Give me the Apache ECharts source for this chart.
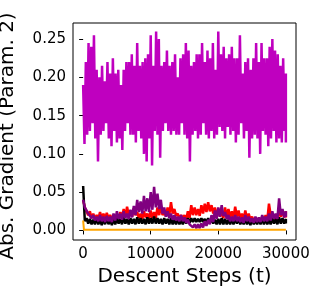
<!DOCTYPE html>
<html><head><meta charset="utf-8">
<script src="https://cdn.jsdelivr.net/npm/echarts@6/dist/echarts.min.js"></script>
<style>html,body{margin:0;padding:0;background:#fff}#c{width:318px;height:292px}</style>
</head><body><div id="c"></div>
<script>
// Magenta series: upper / lower envelope, sampled every 400 steps
const magStep = 400;
const magTop = [0.19,0.22,0.245,0.24,0.255,0.21,0.20,0.215,0.195,0.22,0.205,0.225,0.205,0.21,0.19,0.21,0.22,0.22,0.23,0.215,
0.245,0.215,0.22,0.225,0.23,0.255,0.215,0.26,0.25,0.215,0.22,0.235,0.215,0.22,0.23,0.20,0.225,0.23,0.245,0.235,
0.215,0.22,0.23,0.23,0.245,0.22,0.235,0.225,0.245,0.21,0.26,0.23,0.24,0.225,0.23,0.24,0.225,0.225,0.255,0.205,
0.22,0.225,0.21,0.225,0.245,0.22,0.245,0.225,0.225,0.24,0.25,0.235,0.23,0.215,0.225,0.205];
const magBot = [0.113,0.125,0.13,0.14,0.12,0.09,0.125,0.13,0.14,0.12,0.11,0.13,0.115,0.12,0.105,0.13,0.14,0.125,0.125,0.115,
0.13,0.12,0.10,0.09,0.12,0.085,0.13,0.125,0.095,0.13,0.14,0.13,0.125,0.13,0.125,0.125,0.14,0.125,0.12,0.09,
0.125,0.13,0.12,0.125,0.14,0.125,0.12,0.13,0.12,0.125,0.135,0.13,0.12,0.135,0.125,0.13,0.115,0.125,0.14,0.12,
0.13,0.095,0.12,0.125,0.12,0.10,0.13,0.125,0.11,0.12,0.13,0.115,0.12,0.115,0.13,0.115];

// Lower series: upper / lower envelopes, sampled every 500 steps
const lowStep = 500;
const redTop = [0.04,0.03,0.025,0.022,0.02,0.024,0.022,0.023,0.02,0.019,0.02,0.024,0.028,0.031,0.026,0.029,0.024,0.022,0.025,0.022,
0.026,0.024,0.03,0.032,0.025,0.03,0.037,0.028,0.022,0.02,0.02,0.025,0.033,0.03,0.028,0.033,0.035,0.037,0.033,0.03,
0.028,0.025,0.03,0.028,0.025,0.031,0.026,0.022,0.026,0.022,0.018,0.017,0.016,0.018,0.02,0.035,0.022,0.02,0.03,0.026,0.025];
const redBot = [0.03,0.02,0.016,0.015,0.015,0.016,0.015,0.016,0.015,0.014,0.015,0.016,0.018,0.02,0.018,0.02,0.016,0.015,0.017,0.015,
0.016,0.016,0.02,0.02,0.018,0.02,0.022,0.019,0.016,0.015,0.014,0.016,0.02,0.02,0.019,0.022,0.024,0.025,0.022,0.02,
0.018,0.016,0.018,0.017,0.016,0.018,0.016,0.014,0.015,0.014,0.012,0.012,0.011,0.012,0.013,0.02,0.014,0.014,0.018,0.017,0.017];
const purTop = [0.04,0.03,0.024,0.02,0.018,0.02,0.018,0.019,0.018,0.022,0.025,0.022,0.025,0.022,0.027,0.032,0.04,0.038,0.045,0.042,
0.05,0.057,0.048,0.04,0.03,0.025,0.022,0.02,0.018,0.02,0.017,0.014,0.01,0.008,0.008,0.009,0.012,0.014,0.02,0.026,
0.03,0.033,0.024,0.02,0.018,0.02,0.018,0.017,0.02,0.018,0.016,0.018,0.017,0.02,0.018,0.022,0.025,0.022,0.042,0.028,0.025];
const purBot = [0.03,0.022,0.016,0.013,0.012,0.012,0.011,0.012,0.011,0.013,0.015,0.014,0.016,0.015,0.017,0.02,0.024,0.022,0.025,0.024,
0.027,0.03,0.028,0.022,0.018,0.016,0.014,0.013,0.012,0.012,0.01,0.008,0.004,0.003,0.003,0.004,0.006,0.008,0.011,0.015,
0.018,0.019,0.015,0.012,0.012,0.012,0.011,0.01,0.012,0.011,0.01,0.011,0.011,0.012,0.012,0.013,0.015,0.015,0.02,0.017,0.018];
const blkTop = [0.058,0.016,0.015,0.014,0.016,0.014,0.015,0.017,0.014,0.015,0.016,0.015,0.017,0.015,0.016,0.015,0.017,0.016,0.015,0.017,
0.016,0.018,0.016,0.015,0.016,0.015,0.016,0.014,0.015,0.014,0.015,0.016,0.016,0.016,0.015,0.016,0.015,0.016,0.015,0.014,
0.015,0.016,0.015,0.014,0.015,0.016,0.015,0.014,0.015,0.014,0.015,0.014,0.015,0.016,0.015,0.014,0.016,0.015,0.017,0.016,0.015];
const blkBot = [0.012,0.009,0.008,0.008,0.008,0.007,0.008,0.008,0.007,0.008,0.009,0.008,0.009,0.008,0.009,0.008,0.009,0.009,0.008,0.009,
0.009,0.009,0.009,0.008,0.009,0.008,0.008,0.008,0.008,0.008,0.009,0.01,0.011,0.011,0.011,0.011,0.01,0.01,0.009,0.008,
0.008,0.008,0.008,0.008,0.008,0.009,0.008,0.008,0.008,0.007,0.008,0.008,0.008,0.008,0.008,0.008,0.009,0.008,0.009,0.009,0.009];
const orangeT = [0, 120, 30000];
const orangeV = [0.013, 0.001, 0.001];

const xTicks = [0, 10000, 20000, 30000];
const yTicks = [0, 0.05, 0.10, 0.15, 0.20, 0.25];

function zig(top, bot, step) {
  const out = [];
  for (let i = 0; i < top.length; i++) {
    out.push([i * step, top[i]]);
    out.push([Math.min(i * step + step / 2, 30000), bot[i]]);
  }
  return out;
}

const font = 'DejaVu Sans';
const line = (data, color, z, w) => ({
  type: 'line', data, showSymbol: false, symbol: 'none', z,
  lineStyle: { color, width: w, join: 'bevel' }, animation: false
});

const chart = echarts.init(document.getElementById('c'), null, { renderer: 'canvas' });
chart.setOption({
  animation: false,
  grid: { left: 73, right: 22, top: 23, bottom: 52, outerBoundsMode: 'none', containLabel: false,
          show: true, borderColor: '#000', borderWidth: 1, backgroundColor: 'transparent' },
  xAxis: {
    type: 'value', min: -1500, max: 31500,
    name: 'Descent Steps (t)', nameLocation: 'middle', nameGap: 27,
    nameTextStyle: { fontFamily: font, fontSize: 20, color: '#000' },
    axisLine: { show: false },
    splitLine: { show: false },
    axisTick: { show: true, length: 4, inside: false, lineStyle: { color: '#000' }, customValues: xTicks },
    axisLabel: { fontFamily: font, fontSize: 15, color: '#000', margin: 7, customValues: xTicks, formatter: v => String(v) }
  },
  yAxis: {
    type: 'value', min: -0.0125, max: 0.271,
    name: 'Abs. Gradient (Param. 2)', nameLocation: 'middle', nameGap: 55, nameRotate: 90,
    nameTextStyle: { fontFamily: font, fontSize: 20, color: '#000', padding: [0, 9, 0, 0] },
    axisLine: { show: false },
    splitLine: { show: false },
    axisTick: { show: true, length: 4, inside: false, lineStyle: { color: '#000' }, customValues: yTicks },
    axisLabel: { fontFamily: font, fontSize: 15, color: '#000', margin: 7, customValues: yTicks, formatter: v => v.toFixed(2) }
  },
  series: [
    line(zig(magTop, magBot, magStep), '#bf00bf', 5, 2.5),
    line(zig(redTop, redBot, lowStep), '#ff0000', 2, 2.5),
    line(zig(blkTop, blkBot, lowStep), '#000000', 3, 2.5),
    line(zig(purTop, purBot, lowStep), '#800080', 4, 2.5),
    line(orangeT.map((t, i) => [t, orangeV[i]]), '#ffa500', 6, 2)
  ]
});
</script></body></html>
